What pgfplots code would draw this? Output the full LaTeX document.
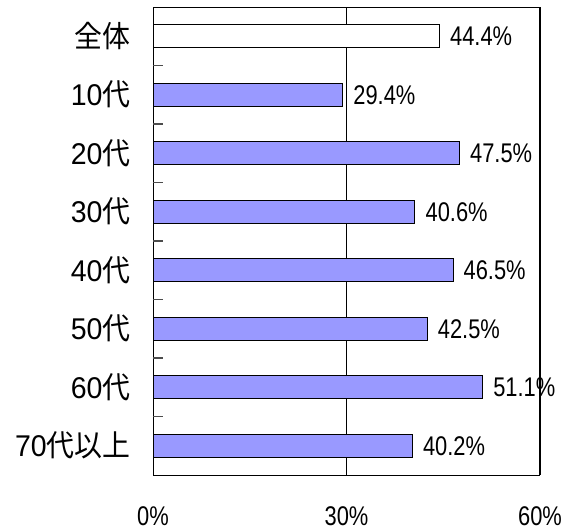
\documentclass[border=0pt]{standalone}
\usepackage{pgfplots}
\pgfplotsset{compat=1.18}
\usepackage{fontspec}
\setmainfont{Liberation Sans}
\newfontfamily\cjk[FakeStretch=0.93]{Noto Sans CJK JP}
\newfontfamily\catfont[FakeStretch=0.95]{Liberation Sans}
\newfontfamily\valfont[FakeStretch=0.81]{Liberation Sans}
\definecolor{barblue}{HTML}{9999FF}
\begin{document}
\begin{tikzpicture}[x=1pt,y=1pt]
\path (0,0) rectangle (570,530);
\begin{axis}[
  at={(153pt,55pt)}, anchor=south west,
  scale only axis, width=387pt, height=468pt,
  xmin=0, xmax=60, ymin=-0.5, ymax=7.5, y dir=reverse,
  /pgf/number format/assume math mode=true,
  xtick={0,30,60}, xticklabels={0\%,30\%,60\%},
  xticklabel style={font=\valfont\fontsize{27}{27}\selectfont, yshift=-28pt},
  xmajorgrids, grid style={black, line width=0.8pt},
  ytick={0,...,7},
  yticklabels={{\cjk 全体},{10{\cjk 代}},{20{\cjk 代}},{30{\cjk 代}},{40{\cjk 代}},{50{\cjk 代}},{60{\cjk 代}},{70{\cjk 代以上}}},
  yticklabel style={font=\catfont\fontsize{30}{30}\selectfont, xshift=-19pt},
  major tick length=0pt,
  extra y ticks={0.5,1.5,2.5,3.5,4.5,5.5,6.5},
  extra y tick labels={},
  extra y tick style={major tick length=10pt, tick align=inside, tick style={black!70, line width=1.3pt}},
  ytick pos=left, xtick pos=bottom,
  axis line style={black, line width=1pt},
  xbar, bar width=0.39, bar shift=0pt,
  nodes near coords={\pgfmathprintnumber[fixed,precision=1,fixed zerofill,assume math mode=true]{\pgfplotspointmeta}\%},
  nodes near coords style={font=\valfont\fontsize{27}{27}\selectfont, anchor=west, xshift=7pt, text=black},
  point meta=x,
  clip=false,
]
\addplot[draw=black, fill=white, line width=0.8pt] coordinates {(44.4,0)};
\addplot[draw=black, fill=barblue, line width=0.8pt] coordinates {
(29.4,1) (47.5,2) (40.6,3) (46.5,4) (42.5,5) (51.1,6) (40.2,7)};
\end{axis}
\end{tikzpicture}
\end{document}
